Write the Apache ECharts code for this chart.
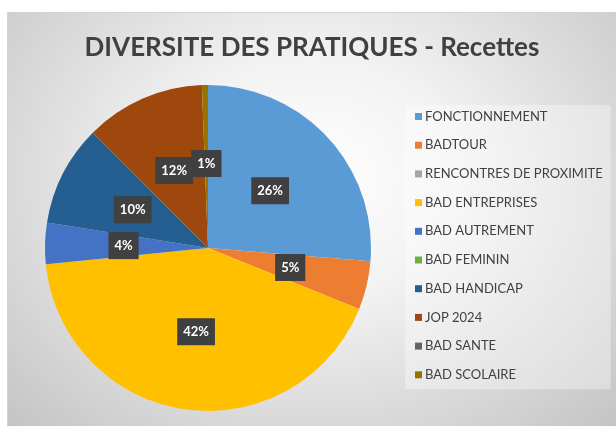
<!DOCTYPE html>
<html>
<head>
<meta charset="utf-8">
<script src="https://cdn.jsdelivr.net/npm/echarts@6/dist/echarts.min.js"></script>
<style>
  html, body { margin: 0; padding: 0; background: #fff; }
  #chart {
    position: absolute; left: 7px; top: 12px; width: 609px; height: 414px;
    border-top: 1px solid #d4d4d4; border-left: 1px solid #d4d4d4;
    box-sizing: border-box;
    background: radial-gradient(ellipse farthest-corner at 50% 40%, #ffffff 0%, #f2f2f2 35%, #c4c4c4 100%);
  }
</style>
</head>
<body>
<div id="chart"></div>
<script>
var titleText = 'DIVERSITE DES PRATIQUES - Recettes';
var categories = ['FONCTIONNEMENT', 'BADTOUR', 'RENCONTRES DE PROXIMITE', 'BAD ENTREPRISES',
    'BAD AUTREMENT', 'BAD FEMININ', 'BAD HANDICAP', 'JOP 2024', 'BAD SANTE', 'BAD SCOLAIRE'];
var values = [26.3, 4.8, 0, 42.3, 4.1, 0, 10.0, 11.9, 0, 0.6];
var colors = ['#5B9BD5', '#ED7D31', '#A5A5A5', '#FFC000', '#4472C4', '#70AD47',
    '#255E91', '#9E480E', '#636363', '#997300'];

var fontName = 'Lato';

var pieData = [];
for (var i = 0; i < categories.length; i++) {
    pieData.push({ name: categories[i], value: values[i] });
}

var myChart = echarts.init(document.getElementById('chart'));
var option = {
    color: colors,
    title: {
        text: titleText,
        left: 'center',
        top: 17,
        textStyle: {
            fontFamily: fontName,
            fontSize: 26,
            fontWeight: 'bold',
            color: '#404040'
        }
    },
    legend: {
        orient: 'vertical',
        left: 397,
        top: 92,
        padding: [5, 8, 8, 10],
        itemWidth: 7,
        itemHeight: 7,
        itemGap: 15.7,
        icon: 'rect',
        backgroundColor: 'rgba(255,255,255,0.35)',
        textStyle: {
            fontFamily: fontName,
            fontSize: 13,
            color: '#404040',
            padding: [0, 0, 0, -2]
        },
        data: categories
    },
    series: [{
        type: 'pie',
        center: [200, 235],
        radius: 163,
        startAngle: 90,
        clockwise: true,
        percentPrecision: 0,
        minShowLabelAngle: 1,
        avoidLabelOverlap: false,
        labelLayout: { hideOverlap: false },
        itemStyle: { borderWidth: 0 },
        label: {
            show: true,
            position: 'inside',
            formatter: '{d}%',
            fontFamily: fontName,
            fontSize: 13,
            fontWeight: 'bold',
            color: '#ffffff',
            backgroundColor: '#404040',
            padding: [7, 6]
        },
        labelLine: { show: false },
        emphasis: { disabled: true },
        data: pieData
    }]
};
myChart.setOption(option);
</script>
</body>
</html>
